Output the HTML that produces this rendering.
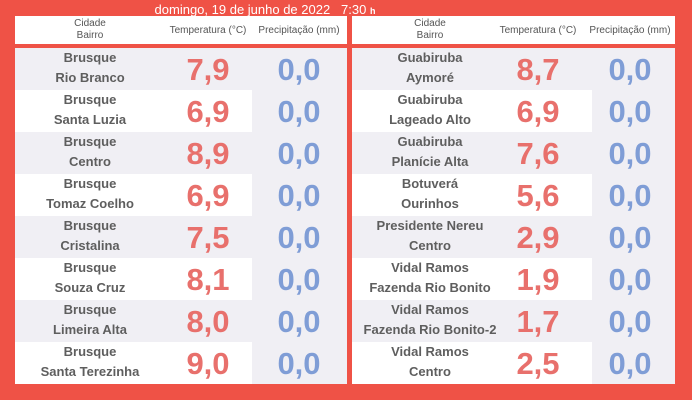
<!DOCTYPE html>
<html><head><meta charset="utf-8"><style>
body{margin:0;width:692px;height:400px;background:#ef5246;position:relative;overflow:hidden;font-family:"Liberation Sans",sans-serif}
.t{position:absolute;top:2px;left:0;width:530px;text-align:center;color:#fff;font-size:13px}
.p{position:absolute;top:16px;height:368px;background:#f0eff4}
.h{position:absolute;left:0;top:0;right:0;height:28px;background:#fff;font-size:10px;color:#555;border-bottom:4px solid #ef5246}
.h span{position:absolute;text-align:center}
.r{position:absolute;left:0;height:42px;width:100%}
.r.w .bg{position:absolute;left:0;top:0;bottom:0;background:#fff}
.n{position:absolute;text-align:center;font-size:13px;font-weight:bold;color:#5e5e5e;line-height:20px;top:0px}
.v{position:absolute;top:3px;font-size:31px;font-weight:bold;text-align:center;width:80px;line-height:38px}
.red{color:#e8706c}.blue{color:#7f9dd6}
</style></head><body>
<div class="t">domingo, 19 de junho de 2022 &nbsp; 7:30 <span style="font-size:9px;font-weight:bold">h</span></div>
<div class="p" id="L" style="left:15px;width:332px"></div>
<div class="p" id="R" style="left:352px;width:323px"></div>
<script>
function build(id,data,nc,tc,pc,ww){
 var p=document.getElementById(id);
 var h='<div class="h"><span style="left:'+(nc-60)+'px;width:120px;top:2px;line-height:12px">Cidade<br>Bairro</span><span style="left:'+(tc-55)+'px;width:110px;top:9px">Temperatura (°C)</span><span style="left:'+(pc-55)+'px;width:110px;top:9px">Precipitação (mm)</span></div>';
 data.forEach(function(d,i){
  h+='<div class="r'+(i%2?' w':'')+'" style="top:'+(32+i*42)+'px">'+(i%2?'<div class="bg" style="width:'+ww+'px"></div>':'')+
  '<div class="n" style="left:'+(nc-80)+'px;width:160px">'+d[0]+'<br>'+d[1]+'</div>'+
  '<div class="v red" style="left:'+(tc-40)+'px">'+d[2]+'</div><div class="v blue" style="left:'+(pc-40)+'px">0,0</div></div>';
 });
 p.innerHTML=h;
}
build('L',[["Brusque","Rio Branco","7,9"],["Brusque","Santa Luzia","6,9"],["Brusque","Centro","8,9"],["Brusque","Tomaz Coelho","6,9"],["Brusque","Cristalina","7,5"],["Brusque","Souza Cruz","8,1"],["Brusque","Limeira Alta","8,0"],["Brusque","Santa Terezinha","9,0"]],75,193,284,237);
build('R',[["Guabiruba","Aymoré","8,7"],["Guabiruba","Lageado Alto","6,9"],["Guabiruba","Planície Alta","7,6"],["Botuverá","Ourinhos","5,6"],["Presidente Nereu","Centro","2,9"],["Vidal Ramos","Fazenda Rio Bonito","1,9"],["Vidal Ramos","Fazenda Rio Bonito-2","1,7"],["Vidal Ramos","Centro","2,5"]],78,186,278,240);
</script>
</body></html>
